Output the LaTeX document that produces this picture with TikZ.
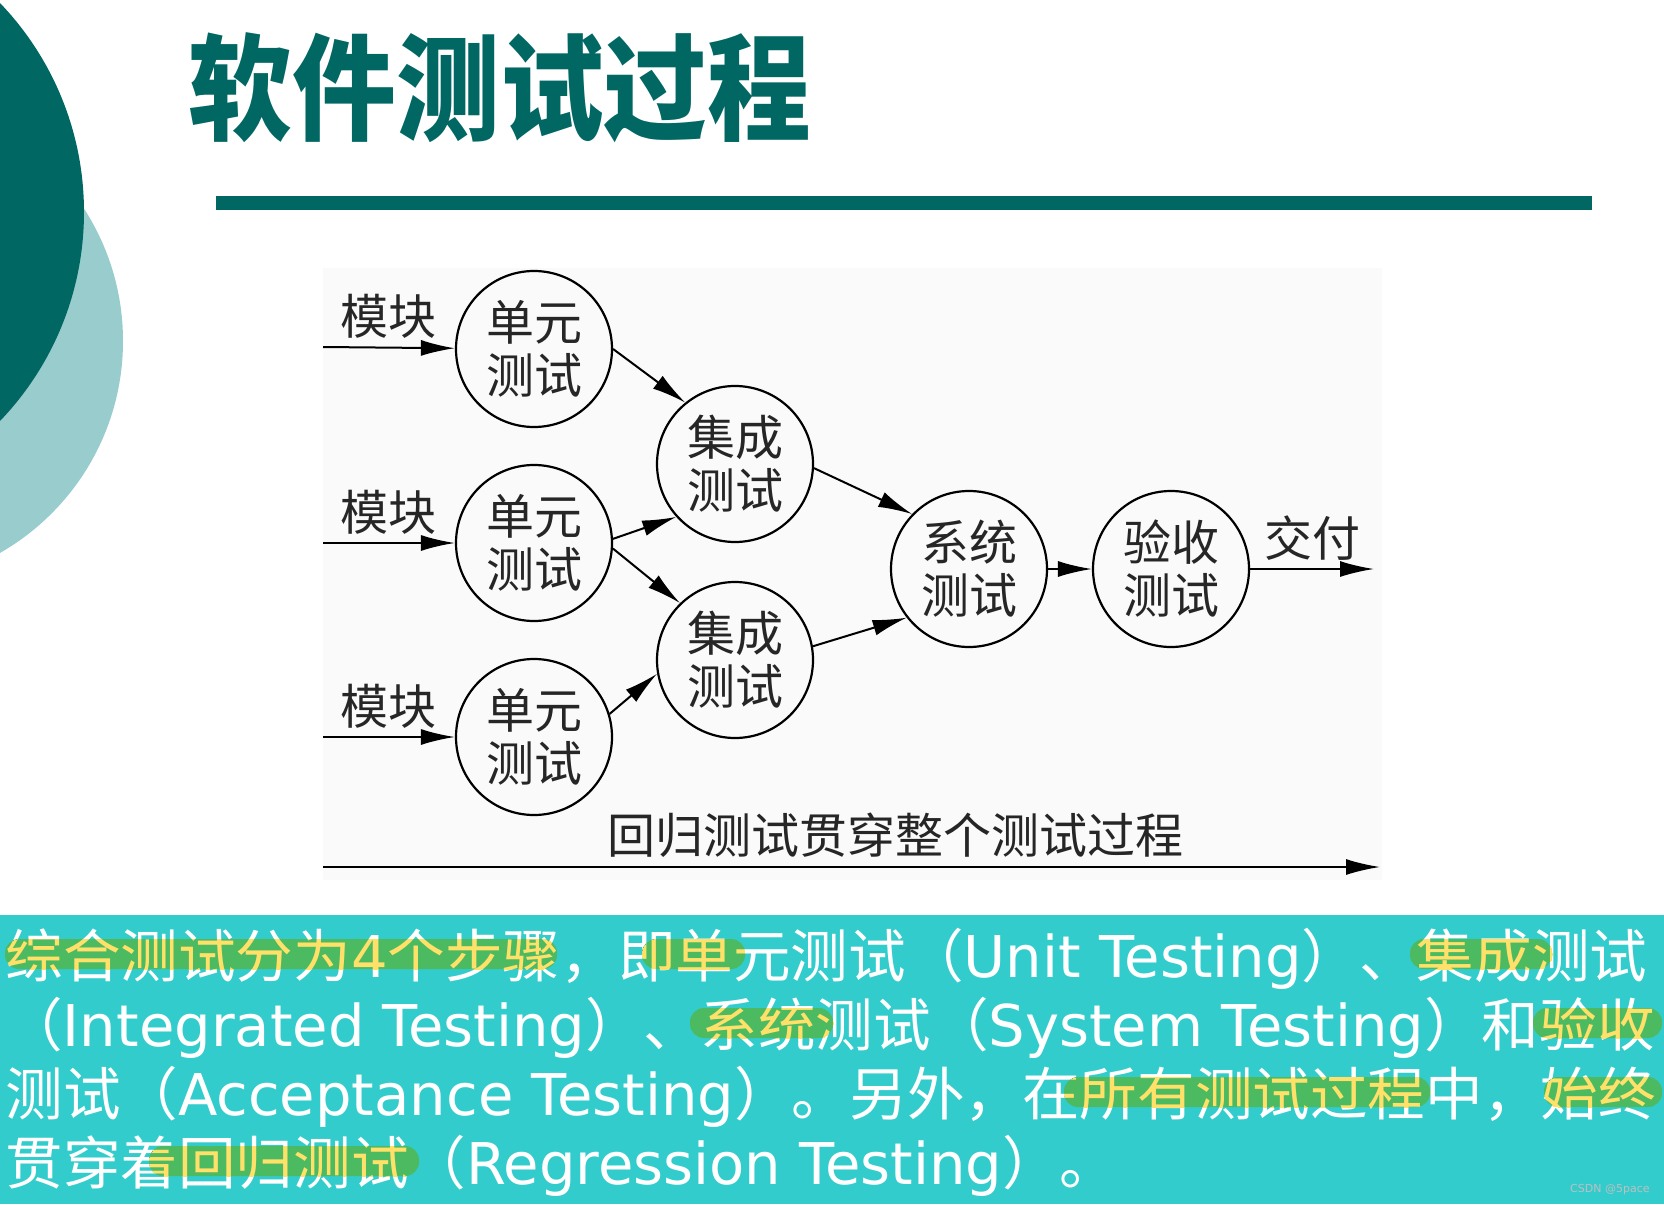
\documentclass[tikz,border=0pt]{standalone}
\usepackage{fontspec}
\setmainfont{DejaVu Sans}
\newfontfamily\cjk{Noto Sans CJK SC}
\usetikzlibrary{arrows.meta}
\definecolor{deepteal}{HTML}{006763}
\definecolor{paleteal}{HTML}{99CCCC}
\definecolor{bandteal}{HTML}{33CCCC}
\definecolor{hlgreen}{HTML}{4CBA60}
\definecolor{hlyellow}{HTML}{FFE16A}
\newcommand\zh[1]{{\cjk #1}}
\newcommand\lineone{\zh{综合测试分为}4\zh{个步骤，即单元测试（}Unit Testing\zh{）、集成测试}}
\newcommand\linetwo{\zh{（}Integrated Testing\zh{）、系统测试（}System Testing\zh{）和验收}}
\newcommand\linethree{\zh{测试（}Acceptance Testing\zh{）。另外，在所有测试过程中，始终}}
\newcommand\linefour{\zh{贯穿着回归测试（}Regression Testing\zh{）。}}
\begin{document}
\begin{tikzpicture}[
  x=0.5pt, y=-0.5pt,
  stage/.style={circle, draw=black, line width=1.1pt, minimum size=78pt, inner sep=0pt, align=center, font=\cjk\fontsize{24}{26.5}\selectfont, text=black!85},
  lbl/.style={inner sep=4pt, font=\cjk\fontsize{24}{26.5}\selectfont, text=black!85},
  arr/.style={-{Latex[length=17pt,width=8pt]}, line width=1pt},
  bodyline/.style={anchor=base west, inner sep=0pt, font=\fontsize{28.8}{34}\selectfont, text=white}
]
  \useasboundingbox (0,0) rectangle (1664,1204);
  % slide decoration
  \begin{scope}
    \clip (0,0) rectangle (1664,1204);
    \fill[paleteal] (-121,341) circle[radius=244];
    \fill[deepteal] (-218,212) circle[radius=302];
  \end{scope}
  \node[anchor=base, inner sep=0pt, font=\cjk\bfseries\fontsize{54}{60}\selectfont, text=deepteal] (title) at (500,132) {\scalebox{0.96}[1.07]{软件测试过程}};
  \fill[deepteal] (216,196) rectangle (1592,210);
  % the diagram
  \fill[black!2] (323,268) rectangle (1382,880);
  \node[stage] (u1) at (534,349) {单元\\测试};
  \node[stage] (u2) at (534,543) {单元\\测试};
  \node[stage] (u3) at (534,737) {单元\\测试};
  \node[stage] (i1) at (735,464) {集成\\测试};
  \node[stage] (i2) at (735,660) {集成\\测试};
  \node[stage] (sys) at (969,569) {系统\\测试};
  \node[stage] (acc) at (1171,569) {验收\\测试};
  \coordinate (m1) at (323,347);
  \coordinate (m2) at (323,543);
  \coordinate (m3) at (323,737);
  \coordinate (out) at (1374,569);
  \coordinate (r0) at (323,867);
  \coordinate (r1) at (1380,867);
  \draw[arr] (m1) -- node[above, lbl] (k1) {模块} (u1);
  \draw[arr] (m2) -- node[above, lbl] (k2) {模块} (u2);
  \draw[arr] (m3) -- node[above, lbl] (k3) {模块} (u3);
  \draw[arr] (u1.east) -- (i1.129);
  \draw[arr] (u2.3) -- (i1.222);
  \draw[arr] (u2.-4) -- (i2.134);
  \draw[arr] (u3.17) -- (i2.190);
  \draw[arr] (i1.-3) -- (sys.136);
  \draw[arr] (i2.10) -- (sys.218);
  \draw[arr] (sys) -- (acc);
  \draw[arr] (acc) -- node[above, lbl] (give) {交付} (out);
  \draw[arr] (r0) -- node[pos=0.542, above, lbl] (reg) {回归测试贯穿整个测试过程} (r1);
  % summary text
  \fill[bandteal] (0,915) rectangle (1664,1204);
  \node[bodyline] (l1) at (5,977) {\lineone};
  \node[bodyline] (l2) at (5,1046) {\linetwo};
  \node[bodyline] (l3) at (5,1115) {\linethree};
  \node[bodyline] (l4) at (5,1184) {\linefour};
  \foreach \xa/\xb/\yb in {5/557/977, 642/745/977, 1410/1552/977, 690/833/1046, 1533/1662/1046, 1064/1430/1115, 1544/1662/1115, 149/419/1184}
    \fill[hlgreen, rounded corners=7pt] (\xa,\yb-38) rectangle (\xb,\yb-8);
  \begin{scope}
    \clip[rounded corners=7pt] (5,939) rectangle (557,969) (642,939) rectangle (745,969) (1410,939) rectangle (1552,969);
    \node[bodyline, text=hlyellow] (l1y) at (5,977) {\lineone};
  \end{scope}
  \begin{scope}
    \clip[rounded corners=7pt] (690,1008) rectangle (833,1038) (1533,1008) rectangle (1662,1038);
    \node[bodyline, text=hlyellow] (l2y) at (5,1046) {\linetwo};
  \end{scope}
  \begin{scope}
    \clip[rounded corners=7pt] (1064,1077) rectangle (1430,1107) (1544,1077) rectangle (1662,1107);
    \node[bodyline, text=hlyellow] (l3y) at (5,1115) {\linethree};
  \end{scope}
  \begin{scope}
    \clip[rounded corners=7pt] (149,1146) rectangle (419,1176);
    \node[bodyline, text=hlyellow] (l4y) at (5,1184) {\linefour};
  \end{scope}
  \node[anchor=east, inner sep=0pt, font=\fontsize{5.5}{6}\selectfont, text=white!75!black] (wm) at (1650,1190) {CSDN @5pace};
\end{tikzpicture}
\end{document}
